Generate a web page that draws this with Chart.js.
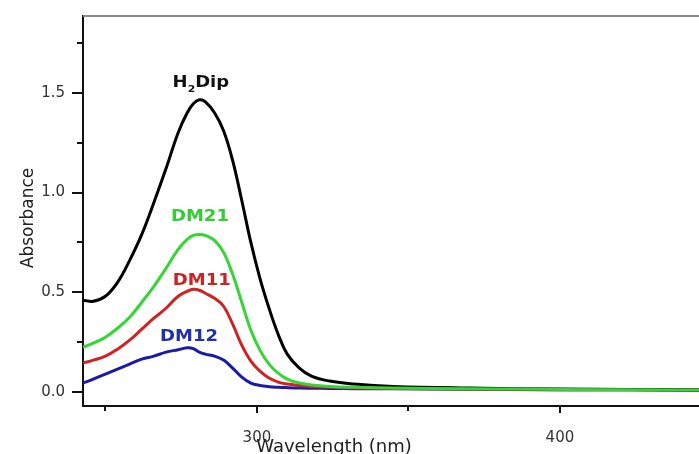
<!DOCTYPE html>
<html>
<head>
<meta charset="utf-8">
<script src="https://cdn.jsdelivr.net/npm/chart.js@4/dist/chart.umd.min.js"></script>
<style>
  html, body { margin: 0; padding: 0; background: #fff; }
  #wrap { width: 699px; height: 454px; }
</style>
</head>
<body>
<div id="wrap"><canvas id="chart"></canvas></div>
<script>
// wavelengths (nm) shared by all spectra
const wavelengths = [242.6, 246, 250, 254, 258, 262, 266, 270, 274, 277, 279, 281, 283, 286, 289,
    292, 295, 298, 301, 304, 307, 310, 314, 318, 324, 332, 345, 370, 400, 446];

const h2dip = [0.46, 0.455, 0.48, 0.55, 0.66, 0.79, 0.95, 1.12, 1.30, 1.40, 1.445, 1.465, 1.455, 1.40, 1.31,
    1.16, 0.96, 0.75, 0.57, 0.42, 0.29, 0.19, 0.12, 0.08, 0.055, 0.04, 0.028, 0.02, 0.015, 0.01];
const dm21 = [0.225, 0.245, 0.275, 0.32, 0.375, 0.45, 0.53, 0.62, 0.715, 0.765, 0.785, 0.79, 0.785, 0.76, 0.70,
    0.59, 0.45, 0.31, 0.21, 0.14, 0.095, 0.065, 0.045, 0.035, 0.028, 0.024, 0.02, 0.017, 0.013, 0.01];
const dm11 = [0.145, 0.16, 0.18, 0.215, 0.26, 0.315, 0.37, 0.42, 0.48, 0.505, 0.515, 0.51, 0.495, 0.47, 0.43,
    0.34, 0.235, 0.155, 0.105, 0.07, 0.05, 0.04, 0.033, 0.028, 0.024, 0.02, 0.018, 0.015, 0.012, 0.01];
const dm12 = [0.045, 0.065, 0.09, 0.115, 0.14, 0.165, 0.18, 0.20, 0.212, 0.222, 0.218, 0.20, 0.19, 0.18, 0.16,
    0.12, 0.075, 0.045, 0.033, 0.027, 0.024, 0.022, 0.02, 0.019, 0.018, 0.017, 0.016, 0.014, 0.012, 0.01];

// axis ticks
const xTicks = [250, 300, 350, 400];
const xLabelled = [300, 400];
const yTicks = [0, 0.25, 0.5, 0.75, 1.0, 1.25, 1.5, 1.75];
const yLabelled = [0, 0.5, 1.0, 1.5];

// curve labels, anchored in data units
const curveLabels = [
    { text: 'H', sub: '2', rest: 'Dip', x: 281.5, y: 1.55, color: '#111111' },
    { text: 'DM21', x: 281.2, y: 0.875, color: '#33cc33' },
    { text: 'DM11', x: 281.8, y: 0.555, color: '#cc2222' },
    { text: 'DM12', x: 277.6, y: 0.275, color: '#1f2fa8' }
];

const toPoints = vals => vals.map((v, i) => ({ x: wavelengths[i], y: v }));

const extras = {
    id: 'extras',
    afterDraw(chart) {
        const { ctx, chartArea, scales: { x, y } } = chart;
        ctx.save();

        // grey top frame line
        ctx.strokeStyle = '#8a8a8a';
        ctx.lineWidth = 2;
        ctx.beginPath();
        ctx.moveTo(chartArea.left, chartArea.top);
        ctx.lineTo(chartArea.right, chartArea.top);
        ctx.stroke();

        // tick marks
        ctx.strokeStyle = '#111';
        ctx.lineWidth = 2;
        xTicks.forEach(v => {
            const px = Math.round(x.getPixelForValue(v));
            const len = xLabelled.includes(v) ? 7 : 5;
            ctx.beginPath();
            ctx.moveTo(px, chartArea.bottom);
            ctx.lineTo(px, chartArea.bottom + len);
            ctx.stroke();
        });
        yTicks.forEach(v => {
            const py = Math.round(y.getPixelForValue(v));
            const len = yLabelled.includes(v) ? 11 : 6;
            ctx.beginPath();
            ctx.moveTo(chartArea.left, py);
            ctx.lineTo(chartArea.left - len, py);
            ctx.stroke();
        });

        // axis titles
        ctx.fillStyle = '#222';
        ctx.font = '18px "DejaVu Sans"';
        ctx.textAlign = 'center';
        ctx.textBaseline = 'alphabetic';
        ctx.fillText('Wavelength (nm)', 334, 452);

        ctx.save();
        ctx.translate(29, 218);
        ctx.rotate(-Math.PI / 2);
        ctx.font = '17px "DejaVu Sans"';
        ctx.textBaseline = 'middle';
        ctx.fillText('Absorbance', 0, 0);
        ctx.restore();

        // curve labels
        curveLabels.forEach(l => {
            const cx = x.getPixelForValue(l.x);
            const cy = y.getPixelForValue(l.y);
            ctx.save();
            ctx.translate(cx, cy);
            ctx.scale(1.2, 1);
            ctx.fillStyle = l.color;
            ctx.textBaseline = 'middle';
            ctx.textAlign = 'left';
            const big = 'bold 15px "DejaVu Sans"';
            const small = 'bold 9px "DejaVu Sans"';
            ctx.font = big;
            const w1 = ctx.measureText(l.text).width;
            let w2 = 0, w3 = 0;
            if (l.sub) {
                ctx.font = small;
                w2 = ctx.measureText(l.sub).width;
                ctx.font = big;
                w3 = ctx.measureText(l.rest).width;
            }
            let sx = -(w1 + w2 + w3) / 2;
            ctx.fillText(l.text, sx, 0);
            if (l.sub) {
                sx += w1;
                ctx.font = small;
                ctx.fillText(l.sub, sx, 7);
                sx += w2;
                ctx.font = big;
                ctx.fillText(l.rest, sx, 0);
            }
            ctx.restore();
        });

        ctx.restore();
    }
};

const lineStyle = { borderWidth: 3, pointRadius: 0, tension: 0.4, fill: false };

new Chart(document.getElementById('chart'), {
    type: 'line',
    data: {
        datasets: [
            { label: 'DM21', data: toPoints(dm21), borderColor: '#33d633', order: 0, ...lineStyle },
            { label: 'H2Dip', data: toPoints(h2dip), borderColor: '#000000', order: 1, ...lineStyle },
            { label: 'DM11', data: toPoints(dm11), borderColor: '#d02222', order: 2, ...lineStyle },
            { label: 'DM12', data: toPoints(dm12), borderColor: '#1a1aa8', order: 3, ...lineStyle }
        ]
    },
    options: {
        responsive: true,
        maintainAspectRatio: false,
        animation: false,
        layout: { padding: { top: 15, right: 0, left: 0, bottom: 0 } },
        plugins: {
            legend: { display: false },
            tooltip: { enabled: false }
        },
        scales: {
            x: {
                type: 'linear',
                min: 242.6,
                max: 445.9,
                afterBuildTicks: scale => { scale.ticks = xTicks.map(v => ({ value: v })); },
                afterFit: scale => { scale.height = 48; },
                ticks: {
                    autoSkip: false,
                    maxRotation: 0,
                    padding: 16,
                    color: '#333',
                    font: { family: '"DejaVu Sans"', size: 15 },
                    callback: v => xLabelled.includes(v) ? String(v) : ''
                },
                grid: { drawOnChartArea: false, tickLength: 7, tickColor: 'rgba(0,0,0,0)', color: 'rgba(0,0,0,0)' },
                border: { display: true, color: '#111', width: 2 }
            },
            y: {
                min: -0.07,
                max: 1.885,
                afterBuildTicks: scale => { scale.ticks = yTicks.map(v => ({ value: v })); },
                afterFit: scale => { scale.width = 83; },
                ticks: {
                    autoSkip: false,
                    padding: 7,
                    color: '#333',
                    font: { family: '"DejaVu Sans"', size: 15 },
                    callback: v => yLabelled.includes(v) ? v.toFixed(1) : ''
                },
                grid: { drawOnChartArea: false, tickLength: 11, tickColor: 'rgba(0,0,0,0)', color: 'rgba(0,0,0,0)' },
                border: { display: true, color: '#111', width: 2 }
            }
        }
    },
    plugins: [extras]
});
</script>
</body>
</html>
